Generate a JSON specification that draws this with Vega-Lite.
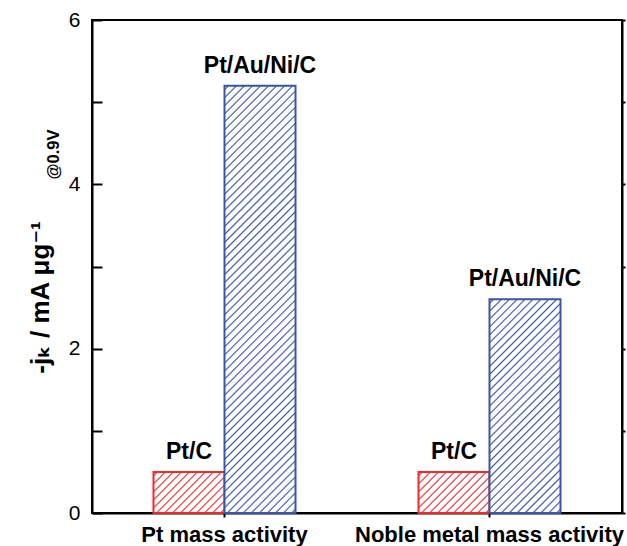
{
  "$schema": "https://vega.github.io/schema/vega-lite/v6.json",
  "width": 530,
  "height": 493,
  "autosize": "none",
  "padding": {"left": 92, "top": 20, "right": 5, "bottom": 33},
  "background": "white",
  "title": {"text": "@0.9V", "orient": "left", "anchor": "middle", "frame": "group", "baseline": "alphabetic", "offset": 0,
    "dx": 112, "dy": 48, "fontSize": 16.5, "fontWeight": "bold", "font": "Liberation Sans", "color": "black"},
  "config": {"view": {"stroke": "black", "strokeWidth": 2}, "font": "Liberation Sans"},
  "data": {"values": [
    {"activity": "Pt mass activity", "catalyst": "Pt/C", "value": 0.5},
    {"activity": "Pt mass activity", "catalyst": "Pt/Au/Ni/C", "value": 5.2},
    {"activity": "Noble metal mass activity", "catalyst": "Pt/C", "value": 0.5},
    {"activity": "Noble metal mass activity", "catalyst": "Pt/Au/Ni/C", "value": 2.6}
  ]},
  "encoding": {
    "x": {"field": "activity", "type": "nominal", "sort": ["Pt mass activity", "Noble metal mass activity"],
      "scale": {"paddingInner": 0, "paddingOuter": 0},
      "axis": {"title": null, "labelAngle": 0, "labelFontSize": 22, "labelFontWeight": "bold", "labelColor": "black", "labelFont": "Liberation Sans",
        "labelLimit": 0, "labelOverlap": false,
        "tickSize": 4, "tickWidth": 2, "tickColor": "black", "domainColor": "black", "domainWidth": 2, "labelPadding": 7}},
    "xOffset": {"field": "catalyst", "type": "nominal", "sort": ["Pt/C", "Pt/Au/Ni/C"], "scale": {"paddingInner": 0, "paddingOuter": 0.866}}
  },
  "layer": [
    {
      "mark": {"type": "bar", "strokeWidth": 2},
      "encoding": {
        "y": {"field": "value", "type": "quantitative", "scale": {"domain": [0, 6], "nice": false},
          "axis": {"orient": "left", "values": [0, 1, 2, 3, 4, 5, 6], "labelExpr": "datum.value % 2 === 0 ? datum.label : ''",
            "ticks": false, "grid": true, "gridColor": "black", "gridWidth": 2, "gridOpacity": 1, "gridDash": [10, 1000],
            "domainColor": "black", "domainWidth": 2,
            "labelFontSize": 21, "labelColor": "black", "labelPadding": 12, "labelFont": "Liberation Sans",
            "title": "-jₖ / mA μg⁻¹", "titleFontSize": 26, "titleFontWeight": "bold", "titleFont": "Liberation Sans, DejaVu Sans", "titleColor": "black",
            "titleAngle": -90, "titleX": -44, "titleY": 277, "titleAlign": "center", "titleBaseline": "alphabetic"}},
        "stroke": {"field": "catalyst", "type": "nominal", "scale": {"domain": ["Pt/C", "Pt/Au/Ni/C"], "range": ["#ee2b2b", "#3c54a5"]}, "legend": null},
        "fill": {
          "condition": [
            {"test": "datum.catalyst === 'Pt/C'", "value": {"gradient": "linear", "x1": 0, "y1": 0, "x2": 1.183, "y2": 0.6831, "stops": [
              {"offset": 0.0214, "color": "#fff"}, {"offset": 0.0357, "color": "#ee2b2b"}, {"offset": 0.05, "color": "#fff"},
              {"offset": 0.0928, "color": "#fff"}, {"offset": 0.1071, "color": "#ee2b2b"}, {"offset": 0.1214, "color": "#fff"},
              {"offset": 0.1643, "color": "#fff"}, {"offset": 0.1786, "color": "#ee2b2b"}, {"offset": 0.1929, "color": "#fff"},
              {"offset": 0.2357, "color": "#fff"}, {"offset": 0.25, "color": "#ee2b2b"}, {"offset": 0.2643, "color": "#fff"},
              {"offset": 0.3071, "color": "#fff"}, {"offset": 0.3214, "color": "#ee2b2b"}, {"offset": 0.3357, "color": "#fff"},
              {"offset": 0.3786, "color": "#fff"}, {"offset": 0.3929, "color": "#ee2b2b"}, {"offset": 0.4072, "color": "#fff"},
              {"offset": 0.45, "color": "#fff"}, {"offset": 0.4643, "color": "#ee2b2b"}, {"offset": 0.4786, "color": "#fff"},
              {"offset": 0.5214, "color": "#fff"}, {"offset": 0.5357, "color": "#ee2b2b"}, {"offset": 0.55, "color": "#fff"},
              {"offset": 0.5928, "color": "#fff"}, {"offset": 0.6071, "color": "#ee2b2b"}, {"offset": 0.6214, "color": "#fff"},
              {"offset": 0.6643, "color": "#fff"}, {"offset": 0.6786, "color": "#ee2b2b"}, {"offset": 0.6929, "color": "#fff"},
              {"offset": 0.7357, "color": "#fff"}, {"offset": 0.75, "color": "#ee2b2b"}, {"offset": 0.7643, "color": "#fff"},
              {"offset": 0.8071, "color": "#fff"}, {"offset": 0.8214, "color": "#ee2b2b"}, {"offset": 0.8357, "color": "#fff"},
              {"offset": 0.8786, "color": "#fff"}, {"offset": 0.8929, "color": "#ee2b2b"}, {"offset": 0.9072, "color": "#fff"},
              {"offset": 0.95, "color": "#fff"}, {"offset": 0.9643, "color": "#ee2b2b"}, {"offset": 0.9786, "color": "#fff"}
            ]}},
            {"test": "datum.value > 4", "value": {"gradient": "linear", "x1": 0, "y1": 0, "x2": 0.189, "y2": 1.135, "stops": [
              {"offset": 0.0049, "color": "#fff"}, {"offset": 0.0081, "color": "#3c54a5"}, {"offset": 0.0113, "color": "#fff"},
              {"offset": 0.021, "color": "#fff"}, {"offset": 0.0242, "color": "#3c54a5"}, {"offset": 0.0274, "color": "#fff"},
              {"offset": 0.0371, "color": "#fff"}, {"offset": 0.0403, "color": "#3c54a5"}, {"offset": 0.0435, "color": "#fff"},
              {"offset": 0.0533, "color": "#fff"}, {"offset": 0.0565, "color": "#3c54a5"}, {"offset": 0.0597, "color": "#fff"},
              {"offset": 0.0694, "color": "#fff"}, {"offset": 0.0726, "color": "#3c54a5"}, {"offset": 0.0758, "color": "#fff"},
              {"offset": 0.0855, "color": "#fff"}, {"offset": 0.0887, "color": "#3c54a5"}, {"offset": 0.0919, "color": "#fff"},
              {"offset": 0.1016, "color": "#fff"}, {"offset": 0.1048, "color": "#3c54a5"}, {"offset": 0.108, "color": "#fff"},
              {"offset": 0.1178, "color": "#fff"}, {"offset": 0.121, "color": "#3c54a5"}, {"offset": 0.1242, "color": "#fff"},
              {"offset": 0.1339, "color": "#fff"}, {"offset": 0.1371, "color": "#3c54a5"}, {"offset": 0.1403, "color": "#fff"},
              {"offset": 0.15, "color": "#fff"}, {"offset": 0.1532, "color": "#3c54a5"}, {"offset": 0.1564, "color": "#fff"},
              {"offset": 0.1662, "color": "#fff"}, {"offset": 0.1694, "color": "#3c54a5"}, {"offset": 0.1726, "color": "#fff"},
              {"offset": 0.1823, "color": "#fff"}, {"offset": 0.1855, "color": "#3c54a5"}, {"offset": 0.1887, "color": "#fff"},
              {"offset": 0.1984, "color": "#fff"}, {"offset": 0.2016, "color": "#3c54a5"}, {"offset": 0.2048, "color": "#fff"},
              {"offset": 0.2145, "color": "#fff"}, {"offset": 0.2177, "color": "#3c54a5"}, {"offset": 0.2209, "color": "#fff"},
              {"offset": 0.2307, "color": "#fff"}, {"offset": 0.2339, "color": "#3c54a5"}, {"offset": 0.2371, "color": "#fff"},
              {"offset": 0.2468, "color": "#fff"}, {"offset": 0.25, "color": "#3c54a5"}, {"offset": 0.2532, "color": "#fff"},
              {"offset": 0.2629, "color": "#fff"}, {"offset": 0.2661, "color": "#3c54a5"}, {"offset": 0.2693, "color": "#fff"},
              {"offset": 0.2791, "color": "#fff"}, {"offset": 0.2823, "color": "#3c54a5"}, {"offset": 0.2855, "color": "#fff"},
              {"offset": 0.2952, "color": "#fff"}, {"offset": 0.2984, "color": "#3c54a5"}, {"offset": 0.3016, "color": "#fff"},
              {"offset": 0.3113, "color": "#fff"}, {"offset": 0.3145, "color": "#3c54a5"}, {"offset": 0.3177, "color": "#fff"},
              {"offset": 0.3274, "color": "#fff"}, {"offset": 0.3306, "color": "#3c54a5"}, {"offset": 0.3338, "color": "#fff"},
              {"offset": 0.3436, "color": "#fff"}, {"offset": 0.3468, "color": "#3c54a5"}, {"offset": 0.35, "color": "#fff"},
              {"offset": 0.3597, "color": "#fff"}, {"offset": 0.3629, "color": "#3c54a5"}, {"offset": 0.3661, "color": "#fff"},
              {"offset": 0.3758, "color": "#fff"}, {"offset": 0.379, "color": "#3c54a5"}, {"offset": 0.3822, "color": "#fff"},
              {"offset": 0.392, "color": "#fff"}, {"offset": 0.3952, "color": "#3c54a5"}, {"offset": 0.3984, "color": "#fff"},
              {"offset": 0.4081, "color": "#fff"}, {"offset": 0.4113, "color": "#3c54a5"}, {"offset": 0.4145, "color": "#fff"},
              {"offset": 0.4242, "color": "#fff"}, {"offset": 0.4274, "color": "#3c54a5"}, {"offset": 0.4306, "color": "#fff"},
              {"offset": 0.4403, "color": "#fff"}, {"offset": 0.4435, "color": "#3c54a5"}, {"offset": 0.4467, "color": "#fff"},
              {"offset": 0.4565, "color": "#fff"}, {"offset": 0.4597, "color": "#3c54a5"}, {"offset": 0.4629, "color": "#fff"},
              {"offset": 0.4726, "color": "#fff"}, {"offset": 0.4758, "color": "#3c54a5"}, {"offset": 0.479, "color": "#fff"},
              {"offset": 0.4887, "color": "#fff"}, {"offset": 0.4919, "color": "#3c54a5"}, {"offset": 0.4951, "color": "#fff"},
              {"offset": 0.5049, "color": "#fff"}, {"offset": 0.5081, "color": "#3c54a5"}, {"offset": 0.5113, "color": "#fff"},
              {"offset": 0.521, "color": "#fff"}, {"offset": 0.5242, "color": "#3c54a5"}, {"offset": 0.5274, "color": "#fff"},
              {"offset": 0.5371, "color": "#fff"}, {"offset": 0.5403, "color": "#3c54a5"}, {"offset": 0.5435, "color": "#fff"},
              {"offset": 0.5533, "color": "#fff"}, {"offset": 0.5565, "color": "#3c54a5"}, {"offset": 0.5597, "color": "#fff"},
              {"offset": 0.5694, "color": "#fff"}, {"offset": 0.5726, "color": "#3c54a5"}, {"offset": 0.5758, "color": "#fff"},
              {"offset": 0.5855, "color": "#fff"}, {"offset": 0.5887, "color": "#3c54a5"}, {"offset": 0.5919, "color": "#fff"},
              {"offset": 0.6016, "color": "#fff"}, {"offset": 0.6048, "color": "#3c54a5"}, {"offset": 0.608, "color": "#fff"},
              {"offset": 0.6178, "color": "#fff"}, {"offset": 0.621, "color": "#3c54a5"}, {"offset": 0.6242, "color": "#fff"},
              {"offset": 0.6339, "color": "#fff"}, {"offset": 0.6371, "color": "#3c54a5"}, {"offset": 0.6403, "color": "#fff"},
              {"offset": 0.65, "color": "#fff"}, {"offset": 0.6532, "color": "#3c54a5"}, {"offset": 0.6564, "color": "#fff"},
              {"offset": 0.6662, "color": "#fff"}, {"offset": 0.6694, "color": "#3c54a5"}, {"offset": 0.6726, "color": "#fff"},
              {"offset": 0.6823, "color": "#fff"}, {"offset": 0.6855, "color": "#3c54a5"}, {"offset": 0.6887, "color": "#fff"},
              {"offset": 0.6984, "color": "#fff"}, {"offset": 0.7016, "color": "#3c54a5"}, {"offset": 0.7048, "color": "#fff"},
              {"offset": 0.7145, "color": "#fff"}, {"offset": 0.7177, "color": "#3c54a5"}, {"offset": 0.7209, "color": "#fff"},
              {"offset": 0.7307, "color": "#fff"}, {"offset": 0.7339, "color": "#3c54a5"}, {"offset": 0.7371, "color": "#fff"},
              {"offset": 0.7468, "color": "#fff"}, {"offset": 0.75, "color": "#3c54a5"}, {"offset": 0.7532, "color": "#fff"},
              {"offset": 0.7629, "color": "#fff"}, {"offset": 0.7661, "color": "#3c54a5"}, {"offset": 0.7693, "color": "#fff"},
              {"offset": 0.7791, "color": "#fff"}, {"offset": 0.7823, "color": "#3c54a5"}, {"offset": 0.7855, "color": "#fff"},
              {"offset": 0.7952, "color": "#fff"}, {"offset": 0.7984, "color": "#3c54a5"}, {"offset": 0.8016, "color": "#fff"},
              {"offset": 0.8113, "color": "#fff"}, {"offset": 0.8145, "color": "#3c54a5"}, {"offset": 0.8177, "color": "#fff"},
              {"offset": 0.8274, "color": "#fff"}, {"offset": 0.8306, "color": "#3c54a5"}, {"offset": 0.8338, "color": "#fff"},
              {"offset": 0.8436, "color": "#fff"}, {"offset": 0.8468, "color": "#3c54a5"}, {"offset": 0.85, "color": "#fff"},
              {"offset": 0.8597, "color": "#fff"}, {"offset": 0.8629, "color": "#3c54a5"}, {"offset": 0.8661, "color": "#fff"},
              {"offset": 0.8758, "color": "#fff"}, {"offset": 0.879, "color": "#3c54a5"}, {"offset": 0.8822, "color": "#fff"},
              {"offset": 0.892, "color": "#fff"}, {"offset": 0.8952, "color": "#3c54a5"}, {"offset": 0.8984, "color": "#fff"},
              {"offset": 0.9081, "color": "#fff"}, {"offset": 0.9113, "color": "#3c54a5"}, {"offset": 0.9145, "color": "#fff"},
              {"offset": 0.9242, "color": "#fff"}, {"offset": 0.9274, "color": "#3c54a5"}, {"offset": 0.9306, "color": "#fff"},
              {"offset": 0.9403, "color": "#fff"}, {"offset": 0.9435, "color": "#3c54a5"}, {"offset": 0.9467, "color": "#fff"},
              {"offset": 0.9565, "color": "#fff"}, {"offset": 0.9597, "color": "#3c54a5"}, {"offset": 0.9629, "color": "#fff"},
              {"offset": 0.9726, "color": "#fff"}, {"offset": 0.9758, "color": "#3c54a5"}, {"offset": 0.979, "color": "#fff"},
              {"offset": 0.9887, "color": "#fff"}, {"offset": 0.9919, "color": "#3c54a5"}, {"offset": 0.9951, "color": "#fff"}
            ]}}
          ],
          "value": {"gradient": "linear", "x1": 0, "y1": 0, "x2": 0.3996, "y2": 1.2, "stops": [
            {"offset": 0.0083, "color": "#fff"}, {"offset": 0.0139, "color": "#3c54a5"}, {"offset": 0.0195, "color": "#fff"},
            {"offset": 0.0361, "color": "#fff"}, {"offset": 0.0417, "color": "#3c54a5"}, {"offset": 0.0473, "color": "#fff"},
            {"offset": 0.0638, "color": "#fff"}, {"offset": 0.0694, "color": "#3c54a5"}, {"offset": 0.075, "color": "#fff"},
            {"offset": 0.0916, "color": "#fff"}, {"offset": 0.0972, "color": "#3c54a5"}, {"offset": 0.1028, "color": "#fff"},
            {"offset": 0.1194, "color": "#fff"}, {"offset": 0.125, "color": "#3c54a5"}, {"offset": 0.1306, "color": "#fff"},
            {"offset": 0.1472, "color": "#fff"}, {"offset": 0.1528, "color": "#3c54a5"}, {"offset": 0.1584, "color": "#fff"},
            {"offset": 0.175, "color": "#fff"}, {"offset": 0.1806, "color": "#3c54a5"}, {"offset": 0.1862, "color": "#fff"},
            {"offset": 0.2027, "color": "#fff"}, {"offset": 0.2083, "color": "#3c54a5"}, {"offset": 0.2139, "color": "#fff"},
            {"offset": 0.2305, "color": "#fff"}, {"offset": 0.2361, "color": "#3c54a5"}, {"offset": 0.2417, "color": "#fff"},
            {"offset": 0.2583, "color": "#fff"}, {"offset": 0.2639, "color": "#3c54a5"}, {"offset": 0.2695, "color": "#fff"},
            {"offset": 0.2861, "color": "#fff"}, {"offset": 0.2917, "color": "#3c54a5"}, {"offset": 0.2973, "color": "#fff"},
            {"offset": 0.3138, "color": "#fff"}, {"offset": 0.3194, "color": "#3c54a5"}, {"offset": 0.325, "color": "#fff"},
            {"offset": 0.3416, "color": "#fff"}, {"offset": 0.3472, "color": "#3c54a5"}, {"offset": 0.3528, "color": "#fff"},
            {"offset": 0.3694, "color": "#fff"}, {"offset": 0.375, "color": "#3c54a5"}, {"offset": 0.3806, "color": "#fff"},
            {"offset": 0.3972, "color": "#fff"}, {"offset": 0.4028, "color": "#3c54a5"}, {"offset": 0.4084, "color": "#fff"},
            {"offset": 0.425, "color": "#fff"}, {"offset": 0.4306, "color": "#3c54a5"}, {"offset": 0.4362, "color": "#fff"},
            {"offset": 0.4527, "color": "#fff"}, {"offset": 0.4583, "color": "#3c54a5"}, {"offset": 0.4639, "color": "#fff"},
            {"offset": 0.4805, "color": "#fff"}, {"offset": 0.4861, "color": "#3c54a5"}, {"offset": 0.4917, "color": "#fff"},
            {"offset": 0.5083, "color": "#fff"}, {"offset": 0.5139, "color": "#3c54a5"}, {"offset": 0.5195, "color": "#fff"},
            {"offset": 0.5361, "color": "#fff"}, {"offset": 0.5417, "color": "#3c54a5"}, {"offset": 0.5473, "color": "#fff"},
            {"offset": 0.5638, "color": "#fff"}, {"offset": 0.5694, "color": "#3c54a5"}, {"offset": 0.575, "color": "#fff"},
            {"offset": 0.5916, "color": "#fff"}, {"offset": 0.5972, "color": "#3c54a5"}, {"offset": 0.6028, "color": "#fff"},
            {"offset": 0.6194, "color": "#fff"}, {"offset": 0.625, "color": "#3c54a5"}, {"offset": 0.6306, "color": "#fff"},
            {"offset": 0.6472, "color": "#fff"}, {"offset": 0.6528, "color": "#3c54a5"}, {"offset": 0.6584, "color": "#fff"},
            {"offset": 0.675, "color": "#fff"}, {"offset": 0.6806, "color": "#3c54a5"}, {"offset": 0.6862, "color": "#fff"},
            {"offset": 0.7027, "color": "#fff"}, {"offset": 0.7083, "color": "#3c54a5"}, {"offset": 0.7139, "color": "#fff"},
            {"offset": 0.7305, "color": "#fff"}, {"offset": 0.7361, "color": "#3c54a5"}, {"offset": 0.7417, "color": "#fff"},
            {"offset": 0.7583, "color": "#fff"}, {"offset": 0.7639, "color": "#3c54a5"}, {"offset": 0.7695, "color": "#fff"},
            {"offset": 0.7861, "color": "#fff"}, {"offset": 0.7917, "color": "#3c54a5"}, {"offset": 0.7973, "color": "#fff"},
            {"offset": 0.8138, "color": "#fff"}, {"offset": 0.8194, "color": "#3c54a5"}, {"offset": 0.825, "color": "#fff"},
            {"offset": 0.8416, "color": "#fff"}, {"offset": 0.8472, "color": "#3c54a5"}, {"offset": 0.8528, "color": "#fff"},
            {"offset": 0.8694, "color": "#fff"}, {"offset": 0.875, "color": "#3c54a5"}, {"offset": 0.8806, "color": "#fff"},
            {"offset": 0.8972, "color": "#fff"}, {"offset": 0.9028, "color": "#3c54a5"}, {"offset": 0.9084, "color": "#fff"},
            {"offset": 0.925, "color": "#fff"}, {"offset": 0.9306, "color": "#3c54a5"}, {"offset": 0.9362, "color": "#fff"},
            {"offset": 0.9527, "color": "#fff"}, {"offset": 0.9583, "color": "#3c54a5"}, {"offset": 0.9639, "color": "#fff"},
            {"offset": 0.9805, "color": "#fff"}, {"offset": 0.9861, "color": "#3c54a5"}, {"offset": 0.9917, "color": "#fff"}
          ]}
        }
      }
    },
    {
      "mark": {"type": "text", "dy": -13, "baseline": "alphabetic", "fontSize": 23, "fontWeight": "bold", "font": "Liberation Sans", "color": "black"},
      "encoding": {
        "y": {"field": "value", "type": "quantitative", "scale": {"domain": [0, 6], "nice": false},
          "axis": {"orient": "right", "values": [0, 1, 2, 3, 4, 5, 6], "labels": false, "tickSize": 3, "tickWidth": 2, "tickColor": "black",
            "domainColor": "black", "domainWidth": 2, "grid": false, "title": null}},
        "text": {"field": "catalyst", "type": "nominal"}
      }
    }
  ],
  "resolve": {"axis": {"y": "independent"}}
}
